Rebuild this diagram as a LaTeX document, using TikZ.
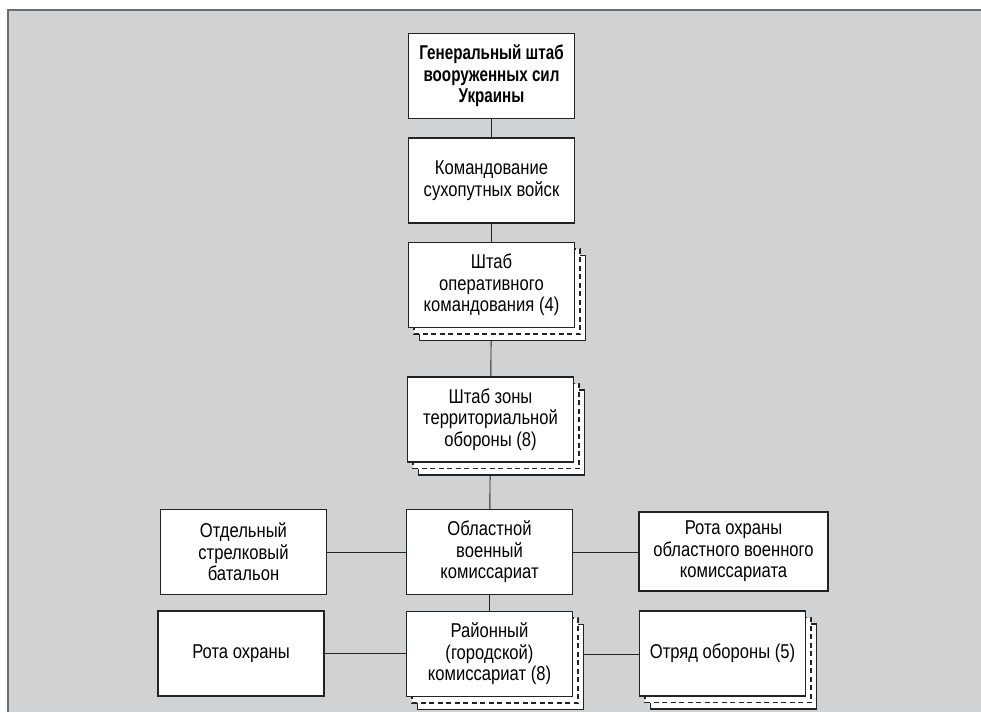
\documentclass[tikz,border=0pt]{standalone}
\usepackage{fontspec}
\setmainfont{Liberation Sans}[FakeStretch=0.83,BoldFeatures={FakeStretch=0.76}]
\usetikzlibrary{calc,positioning,shadows,backgrounds}
\definecolor{panelgray}{RGB}{209,210,212}
\definecolor{frameline}{RGB}{110,110,110}
\definecolor{boxline}{RGB}{35,35,35}

\begin{document}
\begin{tikzpicture} [x=1pt,y=-1pt,{unit/.style={rectangle,draw=boxline,fill=white,line width=1.1pt,minimum width=166pt,minimum height=85pt,inner sep=2pt,align=center,font=\fontsize{20}{21.5}\selectfont}},{stack/.style={unit,copy shadow={shadow xshift=11pt,shadow yshift=-13pt,fill=white,draw=boxline},copy shadow={shadow xshift=5.5pt,shadow yshift=-6.5pt,fill=white,draw=boxline,dash pattern=on 5pt off 3.5pt}}},{link/.style={color=boxline,line width=0.9pt}}]
	\useasboundingbox (0,0) rectangle (981,712);

	%%main column
	\node [unit] (gs) at (491.5,76) {\textbf{Генеральный штаб}\\\textbf{вооруженных сил}\\\textbf{Украины}};
	\node [unit] (ksv) at (491.5,180.5) {Командование\\сухопутных войск};
	\node [stack] (shok) at (491.5,285) {Штаб\\оперативного\\командования (4)};
	\node [stack] (shzto) at (490.5,419.5) {Штаб зоны\\территориальной\\обороны (8)};
	\node [unit] (ovk) at (489.5,552) {Областной\\военный\\комиссариат};
	\node [stack] (rgk) at (489.5,654) {Районный\\(городской)\\комиссариат (8)};

	%%side boxes
	\node [unit] (otdsb) at (243.5,552) {Отдельный\\стрелковый\\батальон};
	\node [unit,minimum width=189pt,minimum height=79pt] (roovk) at (733.5,551.5) {Рота охраны\\областного военного\\комиссариата};
	\node [unit] (rota) at (241,653.5) {Рота охраны};
	\node [stack] (otrob) at (722.5,653.5) {Отряд обороны (5)};

	\begin{scope}[on background layer]
	%%panel
	\fill [panelgray] (8,10) rectangle (981,712);
	\draw [frameline,line width=1.4pt] (8,712) -- (8,10) -- (981,10);
	%%links
	\draw [link] (gs) -- (ksv);
	\draw [link] (ksv) -- (shok);
	\draw [link] (shok) -- (shzto);
	\draw [link] (shzto) -- (ovk);
	\draw [link] (ovk) -- (rgk);
	\draw [link] (otdsb.east) -- (otdsb.east -| ovk.west);
	\draw [link] (ovk.east) -- (ovk.east -| roovk.west);
	\draw [link] (rota.east) -- (rota.east -| rgk.west);
	\draw [link] (rgk.east) -- (rgk.east -| otrob.west);
	\end{scope}
\end{tikzpicture}
\end{document}
